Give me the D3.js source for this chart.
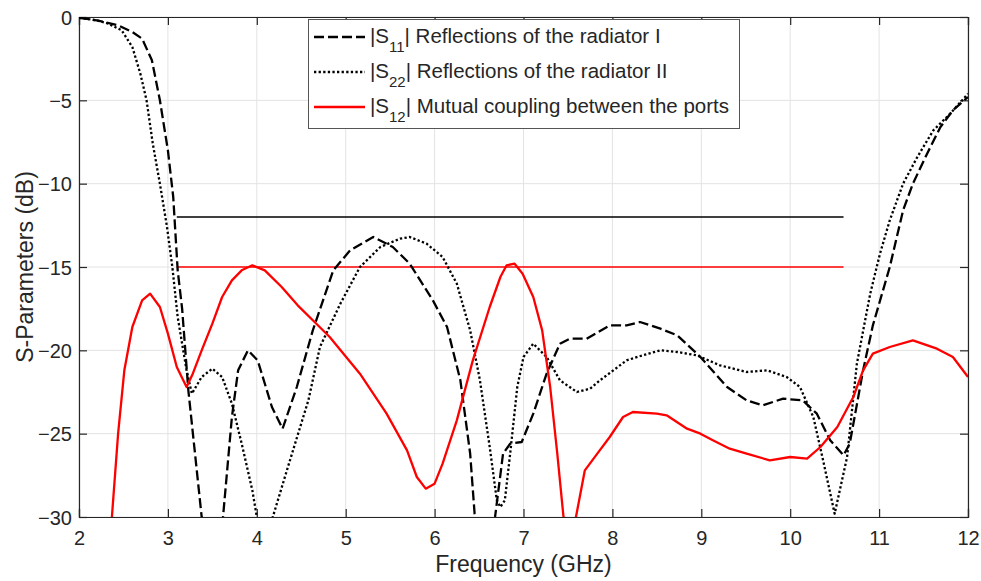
<!DOCTYPE html>
<html><head><meta charset="utf-8">
<script src="https://cdn.jsdelivr.net/npm/d3@7"></script>
<style>
body{margin:0;background:#fff;}
text{font-family:"Liberation Sans",Arial,Helvetica,sans-serif;fill:#262626;}
</style></head>
<body>
<svg id="chart" width="981" height="581"></svg>
<script>
// ---- data ----
const xTicks = [2,3,4,5,6,7,8,9,10,11,12];
const yTicks = [0,-5,-10,-15,-20,-25,-30];
const s11Freq = [2.0,2.2,2.44,2.6,2.71,2.82,2.91,3.0,3.06,3.11,3.16,3.23,3.38,3.5,3.62,3.72,3.79,3.9,4.01,4.17,4.29,4.45,4.63,4.86,5.05,5.31,5.53,5.72,5.98,6.14,6.29,6.4,6.45,6.56,6.68,6.77,6.85,6.98,7.11,7.26,7.41,7.52,7.71,7.97,8.16,8.31,8.54,8.73,8.99,9.29,9.51,9.69,9.92,10.14,10.3,10.45,10.6,10.67,10.82,10.93,11.12,11.27,11.38,11.54,11.69,11.83,12.0];
const s11Val  = [-0.05,-0.2,-0.5,-0.9,-1.3,-2.6,-5.0,-8.0,-10.8,-15.2,-17.5,-22.4,-30,-33,-30,-24,-21.2,-20.0,-20.6,-23.4,-24.7,-22.2,-18.8,-15.2,-14.0,-13.2,-13.8,-14.8,-17.0,-18.6,-21.8,-26.2,-29.8,-33,-30,-26.2,-25.6,-25.5,-23.8,-21.4,-19.6,-19.3,-19.3,-18.5,-18.5,-18.3,-18.7,-19.1,-20.4,-22.2,-23.0,-23.3,-22.9,-23.0,-23.8,-25.4,-26.3,-25.6,-21.2,-18.5,-15.0,-11.6,-10.0,-8.2,-6.6,-5.6,-4.8];
const s22Freq = [2.0,2.2,2.33,2.48,2.6,2.69,2.76,2.83,2.91,2.99,3.05,3.11,3.21,3.27,3.38,3.5,3.61,3.72,3.83,3.95,4.0,4.09,4.18,4.35,4.58,4.71,4.94,5.16,5.39,5.61,5.72,5.91,6.09,6.25,6.4,6.51,6.62,6.7,6.74,6.79,6.85,6.93,7.0,7.11,7.26,7.41,7.6,7.75,7.86,8.16,8.34,8.54,8.73,8.95,9.21,9.51,9.74,9.96,10.11,10.26,10.37,10.5,10.64,10.75,10.9,11.01,11.12,11.27,11.43,11.61,11.8,12.0];
const s22Val  = [-0.05,-0.2,-0.4,-0.8,-1.8,-3.4,-5.0,-7.6,-10.0,-12.6,-15.0,-18.0,-21.2,-22.6,-21.6,-21.1,-21.6,-23.2,-25.6,-28.4,-30,-31.2,-30,-27,-23,-19.8,-17.2,-15.0,-13.8,-13.3,-13.2,-13.6,-14.4,-16.0,-18.8,-21.8,-25.8,-29.0,-29.4,-29.0,-26.2,-22.2,-20.4,-19.6,-20.4,-21.8,-22.5,-22.3,-21.8,-20.6,-20.3,-20.0,-20.1,-20.3,-20.9,-21.3,-21.2,-21.6,-22.2,-24.0,-26.6,-29.8,-26.4,-20.8,-16.6,-14.2,-12.2,-10.0,-8.4,-6.8,-5.8,-4.6];
const s12Freq = [2.33,2.37,2.44,2.51,2.6,2.71,2.8,2.91,3.0,3.1,3.21,3.28,3.38,3.5,3.61,3.72,3.83,3.95,4.09,4.28,4.46,4.65,4.82,5.16,5.46,5.69,5.8,5.9,6.0,6.09,6.25,6.43,6.62,6.74,6.81,6.9,6.99,7.11,7.21,7.3,7.38,7.45,7.52,7.59,7.69,7.83,7.97,8.12,8.23,8.5,8.61,8.84,8.99,9.13,9.32,9.51,9.77,10.0,10.19,10.34,10.53,10.71,10.82,10.93,11.12,11.38,11.65,11.83,12.0];
const s12Val  = [-34,-30,-25,-21.2,-18.6,-17.0,-16.6,-17.4,-19.0,-21.0,-22.2,-21.4,-20.0,-18.4,-16.8,-15.8,-15.2,-14.9,-15.2,-16.2,-17.3,-18.3,-19.2,-21.4,-23.8,-26.0,-27.6,-28.3,-28.0,-26.8,-24.2,-20.6,-17.4,-15.6,-14.9,-14.8,-15.4,-16.8,-18.8,-22.2,-26.2,-30,-33,-30,-27.2,-26.2,-25.2,-24.0,-23.7,-23.8,-23.9,-24.7,-25.0,-25.4,-25.9,-26.2,-26.6,-26.4,-26.5,-25.8,-24.6,-22.8,-21.2,-20.2,-19.8,-19.4,-19.9,-20.4,-21.6];
const refLevels = [-12,-15];
const refRange = [3.1,10.6];
const legendLabels = [["11","| Reflections of the radiator I"],["22","| Reflections of the radiator II"],["12","| Mutual coupling between the ports"]];

// ---- chart ----
const svg = d3.select("#chart");
const L=79, R=968, T=17, B=517;
const x = d3.scaleLinear().domain([2,12]).range([L,R]);
const y = d3.scaleLinear().domain([-30,0]).range([B,T]);
const axisCol = "#262626";

svg.append("defs").append("clipPath").attr("id","clip")
  .append("rect").attr("x",L).attr("y",T).attr("width",R-L).attr("height",B-T);

// grid
const g = svg.append("g");
g.selectAll(".gx").data(xTicks).join("line")
  .attr("x1",d=>x(d)).attr("x2",d=>x(d)).attr("y1",T).attr("y2",B)
  .attr("stroke","#e3e3e3").attr("stroke-width",1);
g.selectAll(".gy").data(yTicks).join("line")
  .attr("y1",d=>y(d)).attr("y2",d=>y(d)).attr("x1",L).attr("x2",R)
  .attr("stroke","#e3e3e3").attr("stroke-width",1);

// axes
const tl = 8;
const xb = svg.append("g").attr("transform",`translate(0,${B})`)
  .call(d3.axisBottom(x).tickValues(xTicks).tickSize(-tl).tickPadding(14).tickFormat(d3.format("d")));
const xt = svg.append("g").attr("transform",`translate(0,${T})`)
  .call(d3.axisTop(x).tickValues(xTicks).tickSize(-tl).tickFormat(""));
const yl = svg.append("g").attr("transform",`translate(${L},0)`)
  .call(d3.axisLeft(y).tickValues(yTicks).tickSize(-tl).tickPadding(7).tickFormat(d3.format("d")));
const yr = svg.append("g").attr("transform",`translate(${R},0)`)
  .call(d3.axisRight(y).tickValues(yTicks).tickSize(-tl).tickFormat(""));
[xb,xt,yl,yr].forEach(a=>{
  a.select(".domain").attr("stroke",axisCol).attr("stroke-width",1.2);
  a.selectAll(".tick line").attr("stroke",axisCol).attr("stroke-width",1.2);
  a.selectAll(".tick text").attr("font-size",20).attr("fill",axisCol)
    .style("font-family",'"Liberation Sans",Arial,sans-serif');
});
yl.selectAll(".tick text").attr("dy","0.35em");

// axis labels
svg.append("text").attr("x",(L+R)/2).attr("y",572).attr("text-anchor","middle")
  .attr("font-size",23).text("Frequency (GHz)");
svg.append("text").attr("transform",`translate(33,${(T+B)/2}) rotate(-90)`)
  .attr("text-anchor","middle").attr("font-size",23).text("S-Parameters (dB)");

// curves
const plot = svg.append("g").attr("clip-path","url(#clip)");
const line = d3.line().x(d=>x(d[0])).y(d=>y(d[1]));
const series = [
  {f:s11Freq,v:s11Val,color:"#000",dash:"10,4",w:2.3},
  {f:s22Freq,v:s22Val,color:"#000",dash:"2.3,2.3",w:2.3},
  {f:s12Freq,v:s12Val,color:"#ff0000",dash:null,w:2.3}
];
// reference lines
refLevels.forEach((lv,i)=>{
  plot.append("line").attr("x1",x(refRange[0])).attr("x2",x(refRange[1]))
    .attr("y1",y(lv)).attr("y2",y(lv))
    .attr("stroke",i===0?"#000":"#ff0000").attr("stroke-width",1.6);
});
series.forEach(s=>{
  plot.append("path").datum(d3.zip(s.f,s.v))
    .attr("d",line).attr("fill","none").attr("stroke",s.color)
    .attr("stroke-width",s.w).attr("stroke-dasharray",s.dash)
    .attr("stroke-linejoin","round");
});

// legend
const lg = svg.append("g");
lg.append("rect").attr("x",308.5).attr("y",19.5).attr("width",431).attr("height",109)
  .attr("fill","#fff").attr("stroke","#555").attr("stroke-width",1);
series.forEach((s,i)=>{
  const yy = 37 + i*35;
  lg.append("line").attr("x1",314).attr("x2",365).attr("y1",yy).attr("y2",yy)
    .attr("stroke",s.color).attr("stroke-width",s.w).attr("stroke-dasharray",s.dash);
  const t = lg.append("text").attr("x",370).attr("y",yy+6).attr("font-size",20.5).attr("fill","#111");
  t.append("tspan").text("|S");
  t.append("tspan").attr("dy",9).attr("font-size",15).text(legendLabels[i][0]);
  t.append("tspan").attr("dy",-9).text(legendLabels[i][1]);
});
</script>
</body></html>
